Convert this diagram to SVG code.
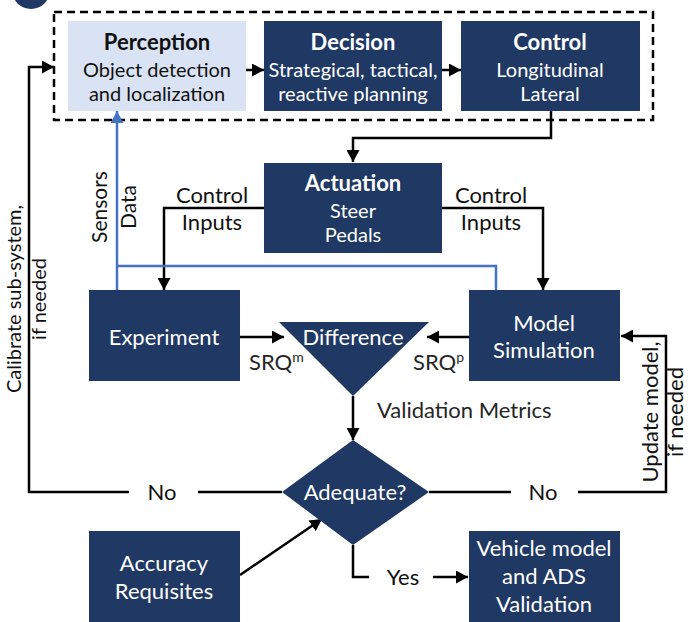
<svg xmlns="http://www.w3.org/2000/svg" width="694" height="622" viewBox="0 0 694 622">
<style>
text{font-family:Lato,"Open Sans","DejaVu Sans",sans-serif;font-size:22px}
.nav{fill:#203864}
.w{fill:#ffffff;text-anchor:middle}
.k{fill:#111111;text-anchor:middle}
.lbl{fill:#262626}
.b{font-weight:bold;font-size:22px}
.s{font-size:20px}
.r{font-size:21px}
.c{fill:none;stroke:#000;stroke-width:2.5}
.bl{fill:none;stroke:#4472c4;stroke-width:2.5}
</style>
<defs>
<marker id="ah" markerUnits="userSpaceOnUse" markerWidth="13" markerHeight="13" refX="12" refY="6.5" orient="auto"><path d="M0,0 L12,6.5 L0,13 z" fill="#000"/></marker>
<marker id="ahb" markerUnits="userSpaceOnUse" markerWidth="13" markerHeight="13" refX="12" refY="6.5" orient="auto"><path d="M0,0 L12,6.5 L0,13 z" fill="#4472c4"/></marker>
</defs>
<rect width="694" height="622" fill="#fff"/>
<circle cx="31" cy="-10" r="19" class="nav"/>
<rect x="54" y="12" width="599" height="108" fill="none" stroke="#000" stroke-width="2.5" stroke-dasharray="8 5"/>

<g id="connectors">
<path class="c" d="M282,492 H198"/>
<path class="c" d="M129,492 H29 V67 H54" marker-end="url(#ah)"/>
<path class="c" d="M429,492 H511"/>
<path class="c" d="M578,492 H666 V336 H621" marker-end="url(#ah)"/>
<path class="c" d="M246,70 H264" marker-end="url(#ah)"/>
<path class="c" d="M442,70 H461" marker-end="url(#ah)"/>
<path class="c" d="M551,111 V138 H353 V162" marker-end="url(#ah)"/>
<path class="c" d="M264,208 H164 V290" marker-end="url(#ah)"/>
<path class="c" d="M442,208 H543 V290" marker-end="url(#ah)"/>
<path class="bl" d="M117,290 V111" marker-end="url(#ahb)"/>
<path class="bl" d="M117,266 H496 V290"/>
<path class="c" d="M240,337 H284" marker-end="url(#ah)"/>
<path class="c" d="M469,337 H427" marker-end="url(#ah)"/>
<path class="c" d="M353,396 V440" marker-end="url(#ah)"/>
<path class="c" d="M240,575 L322,519" marker-end="url(#ah)"/>
<path class="c" d="M353,545 V577 H369"/>
<path class="c" d="M433,577 H468" marker-end="url(#ah)"/>
</g>

<g id="labels">
<text class="k" x="212" y="203">Control</text>
<text class="k" x="212" y="230">Inputs</text>
<text class="k" x="491" y="203">Control</text>
<text class="k" x="491" y="230">Inputs</text>
<text class="k r" transform="translate(107,207) rotate(-90)">Sensors</text>
<text class="k r" transform="translate(136,207) rotate(-90)">Data</text>
<text class="k s" transform="translate(21,299) rotate(-90)">Calibrate sub-system,</text>
<text class="k s" transform="translate(46,299) rotate(-90)">if needed</text>
<text class="k" transform="translate(658,412) rotate(-90)">Update model,</text>
<text class="k" transform="translate(683,412) rotate(-90)">if needed</text>
<text class="lbl" x="249" y="370">SRQ<tspan font-size="14" dy="-8">m</tspan></text>
<text class="lbl" x="413" y="370">SRQ<tspan font-size="14" dy="-8">p</tspan></text>
<text class="lbl" x="377" y="418">Validation Metrics</text>
<text class="k" x="162" y="500">No</text>
<text class="k" x="543" y="500">No</text>
<text class="k" x="403" y="585">Yes</text>
</g>

<g id="perception">
<rect x="68" y="21" width="178" height="90" fill="#dae3f3"/>
<text class="k b" x="157" y="50">Perception</text>
<text class="k s" x="157" y="77">Object detection</text>
<text class="k s" x="157" y="101">and localization</text>
</g>
<g id="decision">
<rect x="264" y="21" width="178" height="90" class="nav"/>
<text class="w b" x="353" y="50">Decision</text>
<text class="w s" x="353" y="77">Strategical, tactical,</text>
<text class="w s" x="353" y="101">reactive planning</text>
</g>
<g id="control">
<rect x="461" y="21" width="179" height="90" class="nav"/>
<text class="w b" x="550" y="50">Control</text>
<text class="w s" x="550" y="77">Longitudinal</text>
<text class="w s" x="550" y="101">Lateral</text>
</g>
<g id="actuation">
<rect x="264" y="163" width="178" height="90" class="nav"/>
<text class="w b" x="353" y="191">Actuation</text>
<text class="w s" x="353" y="218">Steer</text>
<text class="w s" x="353" y="242">Pedals</text>
</g>
<g id="experiment">
<rect x="89" y="290" width="151" height="91" class="nav"/>
<text class="w" x="164" y="345">Experiment</text>
</g>
<g id="model">
<rect x="469" y="290" width="151" height="91" class="nav"/>
<text class="w" x="544" y="331">Model</text>
<text class="w" x="544" y="358">Simulation</text>
</g>
<g id="difference">
<polygon points="279,322 429,322 353,396" class="nav"/>
<text class="w" x="353" y="345">Difference</text>
</g>
<g id="adequate">
<polygon points="353,440 429,492 353,545 282,492" class="nav"/>
<text class="w" x="355" y="500">Adequate?</text>
</g>
<g id="accuracy">
<rect x="89" y="531" width="151" height="91" class="nav"/>
<text class="w" x="164" y="571">Accuracy</text>
<text class="w" x="164" y="599">Requisites</text>
</g>
<g id="vehicle">
<rect x="469" y="531" width="151" height="91" class="nav"/>
<text class="w" x="544" y="556">Vehicle model</text>
<text class="w" x="544" y="584">and ADS</text>
<text class="w" x="544" y="612">Validation</text>
</g>
</svg>
